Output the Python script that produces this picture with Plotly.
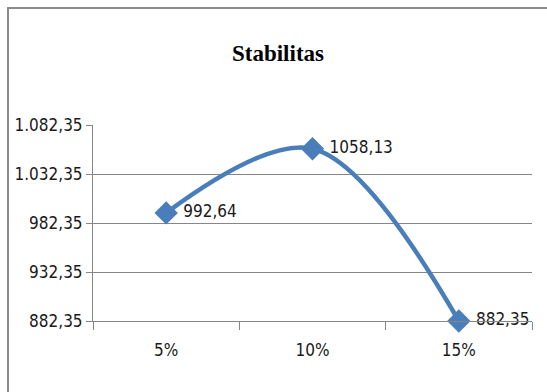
import plotly.graph_objects as go

categories = ["5%", "10%", "15%"]
values = [992.64, 1058.13, 882.35]
labels = ["992,64", "1058,13", "882,35"]
y_ticks = [882.35, 932.35, 982.35, 1032.35, 1082.35]
y_tick_text = ["882,35", "932,35", "982,35", "1.032,35", "1.082,35"]

W, H = 547, 392
L, R, T, B = 93, 15, 125, 71
pw, ph = W - L - R, H - T - B

NARROW = "'Liberation Sans Narrow', 'DejaVu Sans Condensed', 'Arial Narrow', sans-serif"
SERIF = "'Liberation Serif', 'Times New Roman', serif"

fig = go.Figure()
fig.add_trace(go.Scatter(
    x=categories, y=values, mode="lines+markers+text",
    text=[" " + t for t in labels], textposition="middle right",
    textfont=dict(family=NARROW, size=17, color="#1a1a1a"),
    line=dict(color="#4A7EBB", width=4.5, shape="spline", smoothing=1),
    marker=dict(symbol="diamond", size=18, color="#4A7EBB"),
    cliponaxis=False, showlegend=False,
))

fig.update_layout(
    width=W, height=H,
    margin=dict(l=L, r=R, t=T, b=B),
    paper_bgcolor="white", plot_bgcolor="white",
    title=dict(text="<b>Stabilitas</b>", x=278 / W, xanchor="center", y=1 - 53 / H, yanchor="middle",
               font=dict(family=SERIF, size=23, color="black")),
    xaxis=dict(type="category", range=[-0.5, 2.5], tickson="boundaries", ticks="outside",
               ticklen=8, tickcolor="#868686", showgrid=False, showline=True, linecolor="#868686",
               linewidth=1, tickfont=dict(family=NARROW, size=17, color="#1a1a1a"),
               ticklabelstandoff=14, automargin=False),
    yaxis=dict(range=[882.35, 1082.35], tickvals=y_ticks, ticktext=y_tick_text, ticks="outside",
               ticklen=6, tickcolor="#868686", showgrid=True, gridcolor="#868686", gridwidth=1,
               showline=True, linecolor="#868686", linewidth=1, zeroline=False,
               tickfont=dict(family=NARROW, size=17, color="#1a1a1a"), automargin=False),
    shapes=[dict(type="rect", xref="paper", yref="paper",
                 x0=(8 - L) / pw, x1=(W + 20 - L) / pw,
                 y0=(H - B - (H + 20)) / ph, y1=(H - B - 8) / ph,
                 line=dict(color="#8c8c8c", width=2), fillcolor="rgba(0,0,0,0)", layer="below")],
)

fig.write_html("out.html")
